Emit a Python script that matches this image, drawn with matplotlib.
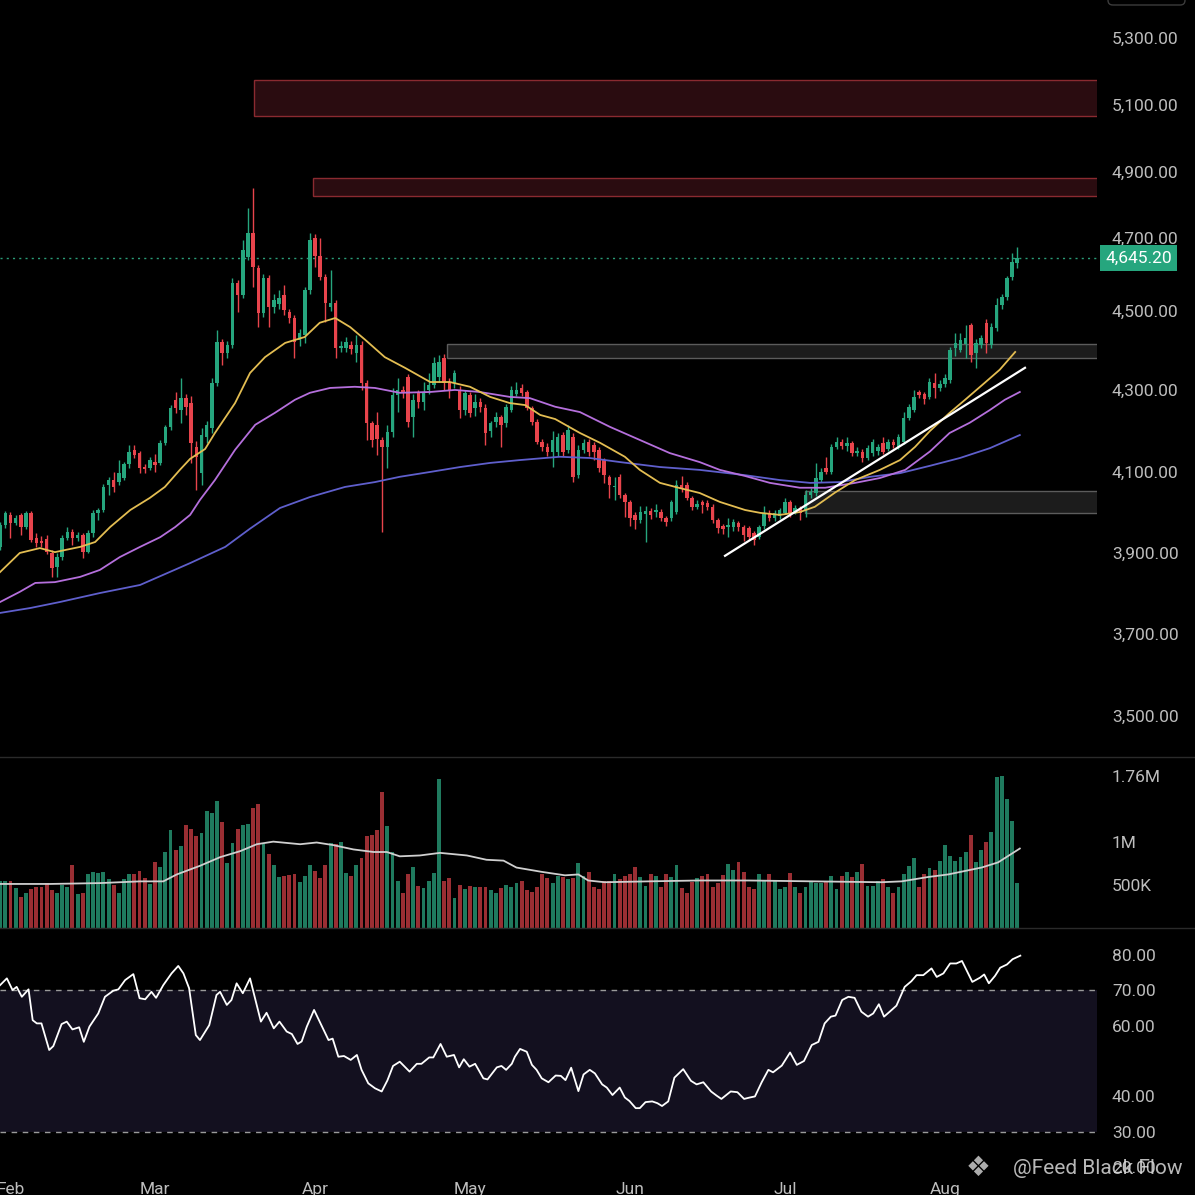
import numpy as np
import pandas as pd
import matplotlib
matplotlib.use('Agg')
import matplotlib.pyplot as plt
import matplotlib.transforms as mtransforms
from matplotlib.patches import Rectangle, FancyBboxPatch
from matplotlib.lines import Line2D

plt.rcParams['font.family'] = ['Roboto', 'DejaVu Sans']

# ---------------- data ----------------
first_day = '2026-01-30'

opens = [
    3915, 3969, 3994, 3974, 3994, 3964, 3999, 3937, 3930, 3935,
    3900, 3866, 3890, 3937, 3952, 3937, 3944, 3902, 3949, 3999,
    4006, 4068, 4080, 4075, 4085, 4120, 4154, 4146, 4112, 4110,
    4124, 4122, 4171, 4210, 4276, 4252, 4280, 4268, 4160, 4098,
    4185, 4207, 4318, 4421, 4393, 4414, 4577, 4544, 4648, 4715,
    4618, 4495, 4590, 4511, 4520, 4544, 4497, 4482, 4427, 4440,
    4557, 4700, 4650, 4593, 4511, 4522, 4406, 4406, 4414, 4394,
    4414, 4318, 4219, 4215, 4178, 4161, 4198, 4288, 4300, 4333,
    4234, 4293, 4271, 4300, 4312, 4333, 4381, 4320, 4318, 4300,
    4251, 4288, 4256, 4271, 4256, 4200, 4222, 4234, 4220, 4251,
    4290, 4305, 4295, 4256, 4222, 4173, 4160, 4149, 4149, 4190,
    4154, 4185, 4092, 4154, 4173, 4166, 4154, 4129, 4088, 4063,
    4088, 4043, 4026, 3994, 3981, 3996, 4004, 4001, 4001, 3986,
    3986, 4001, 4068, 4068, 4036, 4014, 4026, 4024, 4014, 3981,
    3966, 3964, 3964, 3974, 3964, 3962, 3949, 3940, 3966, 3999,
    3986, 3991, 3999, 4026, 3999, 4011, 4006, 4043, 4048, 4080,
    4110, 4100, 4161, 4173, 4163, 4171, 4146, 4149, 4134, 4146,
    4150, 4171, 4156, 4173, 4161, 4173, 4232, 4251, 4295, 4290,
    4283, 4318, 4305, 4315, 4325, 4406, 4401, 4415, 4465, 4394,
    4414, 4470, 4414, 4457, 4516, 4538, 4593, 4632,
]
highs = [
    3976, 4004, 4001, 3994, 3999, 4004, 4004, 3949, 3942, 3944,
    3907, 3900, 3944, 3964, 3959, 3952, 3949, 3957, 4006, 4011,
    4070, 4088, 4100, 4129, 4125, 4165, 4166, 4150, 4120, 4137,
    4144, 4178, 4215, 4263, 4295, 4330, 4290, 4285, 4175, 4207,
    4225, 4330, 4452, 4430, 4425, 4590, 4585, 4695, 4791, 4852,
    4625, 4600, 4599, 4545, 4557, 4571, 4505, 4490, 4455, 4565,
    4715, 4712, 4700, 4600, 4612, 4530, 4425, 4435, 4425, 4440,
    4425, 4325, 4225, 4245, 4185, 4215, 4305, 4330, 4310, 4340,
    4290, 4300, 4320, 4343, 4383, 4389, 4390, 4330, 4350, 4310,
    4300, 4295, 4290, 4280, 4265, 4225, 4245, 4240, 4265, 4310,
    4320, 4315, 4300, 4262, 4228, 4180, 4170, 4200, 4195, 4198,
    4215, 4195, 4165, 4180, 4180, 4172, 4160, 4135, 4092, 4088,
    4094, 4048, 4030, 4000, 4015, 4015, 4012, 4020, 4008, 3992,
    4030, 4080, 4090, 4075, 4040, 4030, 4030, 4030, 4020, 3986,
    3972, 3986, 3985, 3980, 3968, 3966, 3955, 3970, 4015, 4005,
    4006, 4012, 4036, 4030, 4018, 4015, 4055, 4060, 4122, 4110,
    4136, 4168, 4185, 4180, 4185, 4176, 4160, 4155, 4165, 4180,
    4168, 4185, 4180, 4180, 4192, 4245, 4265, 4300, 4300, 4295,
    4330, 4343, 4325, 4340, 4408, 4444, 4444, 4465, 4470, 4430,
    4440, 4480, 4470, 4535, 4545, 4596, 4659, 4675,
]
lows = [
    3907, 3962, 3937, 3969, 3944, 3959, 3927, 3915, 3915, 3898,
    3841, 3841, 3883, 3932, 3920, 3930, 3888, 3900, 3940, 3981,
    4001, 4043, 4051, 4068, 4080, 4110, 4134, 4098, 4098, 4105,
    4100, 4117, 4166, 4203, 4244, 4220, 4240, 4122, 4056, 4068,
    4170, 4195, 4310, 4363, 4380, 4405, 4497, 4535, 4640, 4566,
    4460, 4485, 4460, 4495, 4505, 4490, 4470, 4381, 4410, 4420,
    4545, 4620, 4585, 4472, 4500, 4381, 4395, 4395, 4390, 4370,
    4300, 4178, 4160, 4141, 3952, 4110, 4185, 4246, 4280, 4210,
    4185, 4255, 4250, 4290, 4305, 4320, 4300, 4280, 4305, 4232,
    4240, 4235, 4237, 4245, 4166, 4185, 4210, 4161, 4210, 4245,
    4285, 4285, 4250, 4215, 4168, 4150, 4140, 4112, 4140, 4140,
    4145, 4075, 4085, 4145, 4140, 4130, 4100, 4073, 4036, 4031,
    4035, 3990, 3966, 3960, 3975, 3927, 3985, 3990, 3978, 3966,
    3980, 3995, 4050, 4030, 4005, 4008, 3998, 4005, 3975, 3950,
    3948, 3940, 3955, 3955, 3930, 3932, 3920, 3935, 3960, 3980,
    3980, 3985, 3995, 3990, 3995, 3981, 3990, 4035, 4040, 4075,
    4095, 4095, 4155, 4155, 4150, 4140, 4138, 4125, 4128, 4140,
    4142, 4144, 4150, 4158, 4155, 4168, 4226, 4245, 4280, 4265,
    4278, 4280, 4298, 4308, 4318, 4385, 4395, 4380, 4370, 4356,
    4405, 4394, 4405, 4450, 4505, 4530, 4585, 4618,
]
closes = [
    3969, 3999, 3974, 3986, 3964, 3999, 3932, 3924, 3925, 3902,
    3863, 3890, 3937, 3952, 3937, 3944, 3902, 3949, 3999, 4006,
    4063, 4080, 4063, 4098, 4120, 4149, 4141, 4110, 4108, 4129,
    4117, 4171, 4210, 4256, 4256, 4280, 4259, 4171, 4137, 4190,
    4215, 4318, 4421, 4393, 4414, 4577, 4544, 4667, 4715, 4620,
    4495, 4590, 4511, 4530, 4535, 4503, 4482, 4421, 4444, 4557,
    4695, 4650, 4593, 4522, 4522, 4406, 4412, 4421, 4403, 4414,
    4318, 4219, 4178, 4180, 4161, 4198, 4288, 4300, 4293, 4222,
    4276, 4271, 4293, 4312, 4368, 4371, 4318, 4300, 4343, 4251,
    4293, 4244, 4271, 4259, 4195, 4220, 4234, 4215, 4259, 4300,
    4300, 4293, 4256, 4222, 4173, 4160, 4149, 4178, 4185, 4149,
    4202, 4088, 4154, 4170, 4149, 4149, 4110, 4092, 4068, 4066,
    4043, 4026, 3986, 3981, 4001, 4004, 3994, 4006, 3986, 3976,
    4026, 4068, 4060, 4036, 4014, 4022, 4018, 4014, 3981, 3962,
    3958, 3969, 3976, 3964, 3944, 3940, 3932, 3964, 3999, 3986,
    3999, 4006, 4026, 3999, 4011, 3999, 4043, 4051, 4085, 4100,
    4100, 4161, 4173, 4163, 4170, 4146, 4152, 4134, 4158, 4173,
    4160, 4149, 4173, 4165, 4185, 4232, 4259, 4283, 4288, 4278,
    4320, 4305, 4315, 4330, 4401, 4418, 4426, 4432, 4389, 4419,
    4432, 4419, 4460, 4516, 4538, 4590, 4634, 4645.20,
]
# volume in millions
volume_m = [
    0.55, 0.55, 0.54, 0.46, 0.36, 0.40, 0.45, 0.48, 0.47, 0.52,
    0.44, 0.41, 0.50, 0.47, 0.73, 0.39, 0.41, 0.63, 0.65, 0.64,
    0.65, 0.57, 0.50, 0.41, 0.57, 0.62, 0.63, 0.66, 0.58, 0.51,
    0.76, 0.71, 0.88, 1.14, 0.90, 0.95, 1.19, 1.15, 1.06, 1.10,
    1.36, 1.33, 1.47, 1.23, 0.75, 0.98, 1.15, 1.19, 1.20, 1.39,
    1.44, 0.97, 0.86, 0.73, 0.59, 0.60, 0.61, 0.62, 0.53, 0.60,
    0.73, 0.66, 0.58, 0.73, 0.98, 0.97, 1.00, 0.64, 0.60, 0.73,
    0.81, 1.07, 1.08, 1.14, 1.58, 1.18, 0.88, 0.54, 0.41, 0.62,
    0.71, 0.49, 0.46, 0.54, 0.64, 1.72, 0.54, 0.58, 0.35, 0.50,
    0.45, 0.49, 0.48, 0.47, 0.48, 0.44, 0.40, 0.46, 0.50, 0.47,
    0.52, 0.55, 0.44, 0.42, 0.48, 0.62, 0.58, 0.52, 0.60, 0.59,
    0.57, 0.58, 0.75, 0.60, 0.65, 0.48, 0.45, 0.55, 0.54, 0.62,
    0.57, 0.60, 0.63, 0.71, 0.59, 0.49, 0.62, 0.60, 0.47, 0.62,
    0.59, 0.73, 0.46, 0.40, 0.53, 0.58, 0.60, 0.63, 0.47, 0.52,
    0.61, 0.74, 0.67, 0.77, 0.65, 0.48, 0.45, 0.62, 0.54, 0.62,
    0.54, 0.45, 0.47, 0.64, 0.47, 0.41, 0.47, 0.53, 0.52, 0.52,
    0.53, 0.60, 0.45, 0.60, 0.65, 0.59, 0.65, 0.74, 0.49, 0.49,
    0.54, 0.57, 0.47, 0.40, 0.48, 0.62, 0.72, 0.81, 0.48, 0.62,
    0.69, 0.67, 0.78, 0.96, 0.83, 0.78, 0.82, 0.88, 1.08, 0.76,
    0.90, 1.00, 1.11, 1.75, 1.76, 1.49, 1.24, 0.52,
]
last_price = 4645.20

# moving averages (day = days after 31 Jan)
ma_fast_day = [-1.0, 2.8, 6.7, 9.6, 14.5, 17.4, 20.3, 24.2, 28.0, 30.9,
               33.8, 35.8, 38.7, 40.6, 44.5, 47.4, 50.3, 54.2, 58.0, 60.9,
               63.9, 66.8, 69.7, 73.5, 77.4, 82.3, 86.1, 90.0, 93.9, 97.7,
               100.7, 103.6, 106.5, 111.3, 115.2, 120.0, 122.9, 126.8, 130.7, 134.5,
               138.4, 143.3, 146.2, 150.0, 153.9, 156.8, 160.7, 164.6, 169.4, 173.3,
               176.2, 179.1, 182.9, 185.9, 189.7, 192.6, 195.6]
ma_fast = [3853, 3900, 3912, 3902, 3915, 3927, 3964, 4006, 4036, 4063,
           4105, 4132, 4156, 4195, 4268, 4343, 4383, 4419, 4434, 4470,
           4482, 4459, 4427, 4383, 4356, 4320, 4320, 4308, 4283, 4268,
           4263, 4239, 4229, 4195, 4171, 4137, 4105, 4073, 4060, 4048,
           4026, 4006, 3999, 3994, 4001, 4014, 4049, 4080, 4105, 4129,
           4161, 4200, 4244, 4276, 4318, 4351, 4396]
ma_mid_day = [-1.0, 2.8, 5.8, 9.6, 14.5, 18.3, 22.2, 26.1, 30.0, 32.9,
              35.8, 37.7, 40.6, 44.5, 48.4, 52.2, 56.1, 59.0, 62.9, 67.7,
              71.6, 76.4, 82.3, 87.1, 91.9, 97.7, 101.6, 106.5, 111.3, 117.1,
              122.9, 128.7, 134.5, 138.4, 143.3, 148.1, 153.9, 158.8, 164.6, 169.4,
              174.3, 179.1, 182.9, 186.8, 190.7, 193.6, 196.5]
ma_mid = [3779, 3804, 3826, 3828, 3841, 3858, 3890, 3915, 3939, 3964,
          3994, 4031, 4080, 4154, 4215, 4244, 4276, 4293, 4305, 4308,
          4305, 4293, 4295, 4300, 4295, 4283, 4280, 4259, 4246, 4210,
          4178, 4146, 4124, 4105, 4090, 4073, 4061, 4061, 4073, 4085,
          4105, 4150, 4195, 4220, 4251, 4276, 4295]
ma_slow_day = [-1.0, 4.8, 10.6, 18.3, 26.1, 35.8, 42.6, 47.4, 53.2, 59.0,
               65.8, 71.6, 76.4, 82.3, 88.1, 93.9, 99.7, 104.5, 107.4, 113.2,
               119.1, 126.8, 134.5, 143.3, 150.0, 155.9, 161.7, 167.5, 173.3, 179.1,
               184.9, 190.7, 196.5]
ma_slow = [3752, 3764, 3779, 3801, 3821, 3875, 3915, 3960, 4011, 4038,
           4063, 4075, 4088, 4100, 4112, 4122, 4129, 4134, 4137, 4134,
           4124, 4112, 4105, 4092, 4080, 4073, 4075, 4088, 4097, 4115,
           4134, 4158, 4190]

vol_ma_day = [-1, 8.7, 18.3, 26.1, 30.6, 33.2, 37.7, 41.6, 45.5, 48.7,
              51.9, 57.1, 60.3, 63.5, 67.4, 71.3, 73.9, 76.4, 80.3, 84.2,
              89.4, 93.2, 96.5, 99.0, 103.9, 108.4, 111.0, 112.9, 116.1, 124.5,
              134.2, 143.9, 156.8, 169.7, 173.6, 178.7, 182.6, 189.1, 192.3, 196.5]
vol_ma = [0.51, 0.51, 0.52, 0.54, 0.54, 0.62, 0.72, 0.82, 0.89, 0.97,
          1.00, 0.97, 0.99, 0.96, 0.91, 0.88, 0.88, 0.83, 0.84, 0.87,
          0.84, 0.79, 0.78, 0.70, 0.65, 0.61, 0.62, 0.55, 0.53, 0.54,
          0.55, 0.55, 0.54, 0.53, 0.54, 0.59, 0.62, 0.70, 0.76, 0.92]

rsi_day = [-1.0, 0.3, 1.4, 2.2, 3.2, 4.5, 5.3, 6.1, 7.0, 8.5,
           9.3, 10.9, 11.9, 13.0, 14.3, 15.2, 16.3, 18.0, 19.3, 20.9,
           21.9, 23.2, 24.8, 26.0, 27.1, 28.3, 29.2, 30.6, 32.2, 33.5,
           34.5, 35.6, 36.9, 37.7, 39.5, 40.9, 41.6, 42.9, 43.8, 44.8,
           46.0, 47.4, 49.5, 50.6, 52.0, 53.1, 54.5, 55.5, 56.6, 57.4,
           58.4, 59.8, 61.5, 62.6, 63.4, 64.5, 65.6, 66.9, 68.1, 69.0,
           70.3, 71.6, 72.9, 74.0, 75.1, 76.4, 78.3, 79.7, 80.6, 82.1,
           82.9, 84.3, 85.5, 86.9, 87.9, 88.8, 89.9, 91.0, 92.6, 93.4,
           95.2, 96.1, 97.0, 98.1,
           98.7, 99.7, 101.0, 102.0, 102.9, 103.9, 105.2, 106.6, 107.6, 108.5,
           109.6, 111.0, 112.0, 113.2, 114.2, 115.6, 116.5, 117.6, 119.0, 120.0,
           120.9, 122.1, 122.9, 124.0, 125.3, 126.3, 127.2, 128.4, 129.6, 131.3,
           132.8, 133.9, 135.2, 136.7, 137.8, 138.7, 140.5, 141.8, 143.1, 144.2,
           145.2, 146.5, 147.8, 148.7, 150.4, 152.0, 153.3, 154.7, 156.2, 157.5,
           158.7, 159.9, 160.8, 162.1, 163.3, 164.5, 165.8, 167.1, 168.1, 169.2,
           170.2, 171.3, 172.6, 174.2, 175.5, 176.5, 177.8, 179.4, 180.4, 181.7,
           183.0, 184.2, 185.3, 187.3, 188.8, 189.6, 190.5, 191.7, 192.7, 194.0,
           195.1, 196.6]
rsi_val = [71.4, 73.3, 70.0, 70.9, 68.1, 70.2, 61.5, 60.6, 60.6, 53.1,
           54.2, 60.4, 61.1, 58.9, 59.5, 55.4, 59.7, 63.4, 68.1, 69.8,
           70.2, 72.8, 74.5, 67.7, 67.4, 69.5, 67.8, 71.4, 74.7, 76.8,
           74.7, 70.5, 57.3, 55.9, 60.1, 68.6, 69.5, 65.8, 67.2, 71.9,
           69.1, 73.3, 61.1, 63.6, 59.2, 61.1, 58.3, 57.6, 54.8, 55.5,
           59.7, 64.4, 59.2, 55.9, 56.3, 51.2, 51.4, 50.3, 51.7, 47.5,
           43.7, 42.3, 41.4, 44.5, 48.6, 49.8, 47.0, 49.2, 49.2, 51.0,
           51.0, 54.8, 51.2, 51.7, 48.2, 50.5, 48.4, 49.2, 45.1, 44.8,
           48.2, 48.6, 47.5, 49.2,
           51.2, 53.4, 52.6, 48.9, 47.5, 45.1, 44.0, 45.9, 45.8, 44.6,
           48.1, 41.5, 46.2, 47.5, 46.5, 43.4, 42.5, 40.4, 42.5, 39.7,
           38.7, 36.7, 36.7, 38.4, 38.6, 38.1, 37.3, 38.6, 45.3, 47.7,
           44.4, 43.4, 44.0, 41.4, 40.2, 39.3, 41.4, 41.2, 39.3, 39.7,
           40.0, 44.0, 47.5, 46.8, 48.7, 52.4, 48.9, 50.0, 54.5, 55.4,
           60.6, 62.5, 62.8, 67.2, 68.1, 67.8, 63.9, 62.5, 63.4, 66.0,
           62.5, 63.9, 65.6, 70.9, 72.5, 74.2, 74.2, 76.1, 73.7, 74.7,
           77.5, 77.5, 78.2, 72.3, 73.5, 74.4, 71.9, 74.0, 76.3, 77.2,
           78.7, 79.7]

# supply / demand zones and the trend line
zone_start_day = [48.2, 59.6, 85.5, 154.9]
zone_low = [5067, 4827, 4381, 3999]
zone_high = [5175, 4882, 4416, 4053]
zone_kind = ['red', 'red', 'gray', 'gray']
trend_day = [139.4, 197.5]
trend_price = [3893, 4356]

price_ticks = [3500, 3700, 3900, 4100, 4300, 4500, 4700, 4900, 5100, 5300]
volume_ticks = [0.5, 1.0, 1.76]
volume_labels = ['500K', '1M', '1.76M']
rsi_ticks = [20, 30, 40, 60, 70, 80]

# ---------------- styling ----------------
W = H = 1195
BG = '#000000'
UP, DOWN = '#26a67e', '#e8444c'
VUP, VDOWN = '#1f7a5e', '#9a2e33'
TXT = '#bdbdbd'
FS = 12.5

base = pd.Timestamp('2026-01-31')
dates = pd.date_range(first_day, periods=len(closes), freq='D')
x = np.array((dates - base).days, dtype=float)
o, h, l, c = map(np.array, (opens, highs, lows, closes))
up = c >= o

# the screenshot's price scale is unevenly spaced, follow its tick marks
axis_price = [3300, 3500, 3700, 3900, 4100, 4300, 4500, 4700, 4900, 5100, 5300, 5500]
axis_px = -np.array([798, 716, 634, 553, 472, 390, 311, 238, 172, 105, 38, -29], dtype=float)


def fwd(p):
    return np.interp(p, axis_price, axis_px)


def inv(v):
    return np.interp(v, axis_px, axis_price)


fig = plt.figure(figsize=(W / 100, H / 100), dpi=100, facecolor=BG)
pw = 1097 / W
ax_p = fig.add_axes([0, 1 - 757 / H, pw, 757 / H])
ax_v = fig.add_axes([0, 1 - 928 / H, pw, 171 / H], sharex=ax_p)
ax_r = fig.add_axes([0, 1 - 1178 / H, pw, 250 / H], sharex=ax_p)

for ax in (ax_p, ax_v, ax_r):
    ax.set_facecolor(BG)
    for s in ax.spines.values():
        s.set_visible(False)
    ax.yaxis.tick_right()
    ax.tick_params(axis='y', length=0, pad=10.8, labelsize=FS, labelcolor=TXT)
    ax.tick_params(axis='x', length=0, labelbottom=False)

# ---- price panel ----
ax_p.set_yscale('function', functions=(fwd, inv))
ax_p.set_ylim(3400, 5413)
ax_p.set_yticks(price_ticks)
ax_p.set_yticklabels([f'{v:,.2f}' for v in price_ticks])
ax_p.yaxis.set_minor_locator(plt.NullLocator())

xmax = 211.45
for d, lo, hi, kind in zip(zone_start_day, zone_low, zone_high, zone_kind):
    fc, ec = ('#2a0c10', '#8a2a30') if kind == 'red' else ('#1c1c1c', '#5c5c5c')
    ax_p.add_patch(Rectangle((d, lo), xmax + 2 - d, hi - lo, facecolor=fc,
                             edgecolor=ec, lw=1, zorder=1))

ax_p.axhline(last_price, color='#2a9d78', lw=1, ls=(0, (1.5, 3)), zorder=1.5)

col = np.where(up, UP, DOWN)
ax_p.vlines(x, l, h, colors=col, lw=1, zorder=2)
ax_p.bar(x, np.maximum(np.abs(c - o), 2), bottom=np.minimum(o, c), width=0.68,
         color=col, linewidth=0, zorder=2.5)

ax_p.plot(ma_slow_day, ma_slow, color='#5f5fcc', lw=1.3, zorder=3)
ax_p.plot(ma_mid_day, ma_mid, color='#b56fdc', lw=1.3, zorder=3)
ax_p.plot(ma_fast_day, ma_fast, color='#e3bd52', lw=1.3, zorder=3)
ax_p.plot(trend_day, trend_price, color='white', lw=1.6, zorder=4)

trans = mtransforms.blended_transform_factory(ax_p.transAxes, ax_p.transData)
ax_p.text(1.0075, last_price, f'{last_price:,.2f}', transform=trans, ha='left',
          va='center', fontsize=FS, color='white', clip_on=False, zorder=10,
          bbox=dict(boxstyle='square,pad=0.3', fc='#26a67e', ec='none'))

# ---- volume panel ----
ax_v.bar(x, volume_m, width=0.75, color=np.where(up, VUP, VDOWN), linewidth=0, zorder=2)
ax_v.plot(vol_ma_day, vol_ma, color='#cfcfcf', lw=1.3, zorder=3)
ax_v.set_ylim(0, 1.98)
ax_v.set_yticks(volume_ticks)
ax_v.set_yticklabels(volume_labels)

# ---- RSI panel ----
ax_r.axhspan(30, 70, color='#13101f', lw=0, zorder=0)
for lvl in (70, 30):
    ax_r.axhline(lvl, color='#9a9a9a', lw=1, ls=(0, (4, 4)), zorder=1)
ax_r.plot(rsi_day, rsi_val, color='white', lw=1.3, zorder=3)
ax_r.set_ylim(17, 87.5)
ax_r.set_yticks(rsi_ticks)
ax_r.set_yticklabels([f'{v:.2f}' for v in rsi_ticks])

months = pd.date_range('2026-02-01', '2026-09-01', freq='MS')
ax_r.set_xticks(np.array((months - base).days, dtype=float))
ax_r.set_xticklabels(months.strftime('%b'))
ax_r.tick_params(axis='x', labelbottom=True, pad=3, labelsize=FS, labelcolor=TXT)
ax_p.set_xlim(-1.03, xmax)

# ---- frame bits ----
for yy in (757, 928):
    fig.add_artist(Line2D([0, 1], [1 - yy / H] * 2, color='#2a2a2a', lw=1))
fig.add_artist(FancyBboxPatch((1108 / W, 1 - 5 / H), 77 / W, 20 / H,
                              boxstyle='round,pad=0,rounding_size=0.004',
                              ec='#3c3c3c', fc='none', lw=1))

fig.text(1183 / W, 1 - 1168 / H, '@Feed Black Flow', ha='right', va='center',
         fontsize=15, color='#d8d8d8', alpha=0.85)
fig.text(978 / W, 1 - 1168 / H, '\u2756', ha='center', va='center', fontsize=20,
         color='#d8d8d8', alpha=0.8, family=['DejaVu Sans'])

fig.savefig('out.png', dpi=100, facecolor=BG)
